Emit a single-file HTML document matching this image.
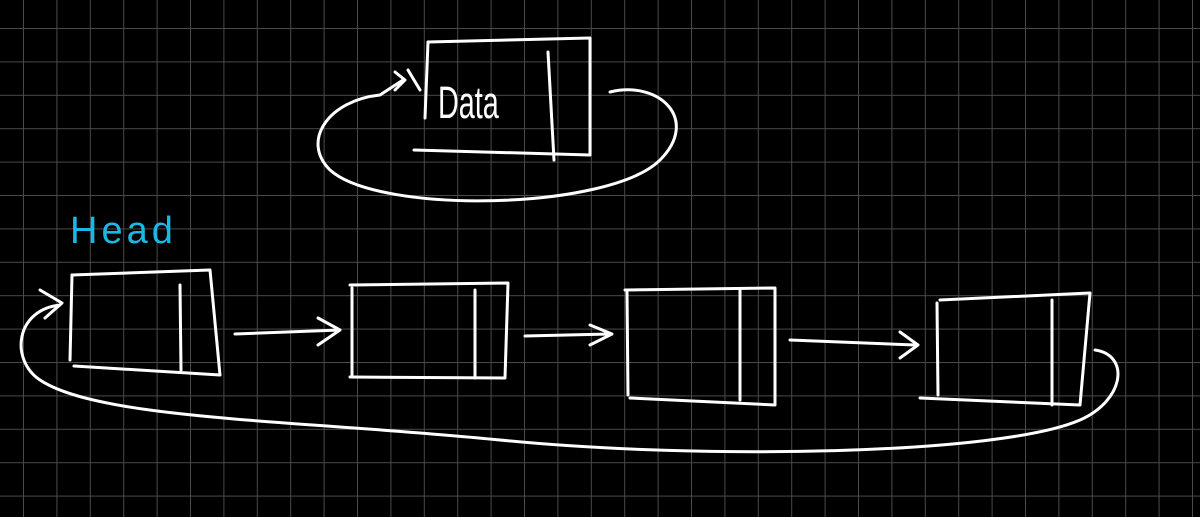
<!DOCTYPE html>
<html><head><meta charset="utf-8"><style>
html,body{margin:0;padding:0;background:#000;width:1200px;height:517px;overflow:hidden}
svg{display:block}
</style></head><body>
<svg width="1200" height="517" viewBox="0 0 1200 517">
<defs>
<pattern id="g" x="23" y="28" width="33.4" height="33.4" patternUnits="userSpaceOnUse">
<path d="M0.5 0V33.4M0 0.5H33.4" stroke="#4a4a4a" stroke-width="1" fill="none"/>
</pattern>
</defs>
<rect width="1200" height="517" fill="#000"/>
<rect width="1200" height="517" fill="url(#g)"/>
<g fill="none" stroke="#fff" stroke-width="3" stroke-linecap="round" stroke-linejoin="round">
<g>
<path d="M428 42 L590 38 L590 155 L414 150"/>
<path d="M428 42 L425 118"/>
<path d="M548 52 L554 160"/>
<path d="M408 70 L420 90"/>
<path d="M610 92 C660 80 700 120 660 160 C610 210 380 215 330 170 C300 140 330 100 380 95 L403 80 M395 72 L405 80 L395 90"/>
<text x="0" y="0" transform="translate(438 118) scale(0.8 1.25)" fill="#fff" stroke="none" font-family="Liberation Sans, sans-serif" font-size="36">Data</text>
</g>
<g>
<path d="M72 275 L210 270 L220 375 L74 366"/><path d="M72 275 L70 360"/><path d="M180 285 L181 370"/>
</g>
<g>
<path d="M350 285 L508 283 L505 378 L350 377"/><path d="M352 288 L352 375"/><path d="M475 290 L475 378"/>
</g>
<g>
<path d="M625 290 L775 288 L775 405 L630 398"/><path d="M627 292 L628 395"/><path d="M740 290 L740 400"/>
</g>
<g>
<path d="M940 300 L1090 293 L1080 405 L920 398"/><path d="M937 303 L938 395"/><path d="M1052 300 L1052 405"/>
</g>
<path d="M235 334 L340 330 M318 318 L340 330 L318 345"/>
<path d="M525 336 L610 334 M590 325 L612 334 L590 345"/>
<path d="M790 340 L915 345 M900 332 L918 345 L900 358"/>
<path d="M1095 350 C1130 355 1125 400 1080 420 C1000 455 700 460 500 440 C300 420 100 420 40 380 C10 360 15 310 60 305 M40 290 L62 303 L45 318"/>
</g>
<text x="70" y="243" fill="#1bb8e6" font-family="Liberation Sans, sans-serif" font-size="38" letter-spacing="4">Head</text>
</svg>
</body></html>
